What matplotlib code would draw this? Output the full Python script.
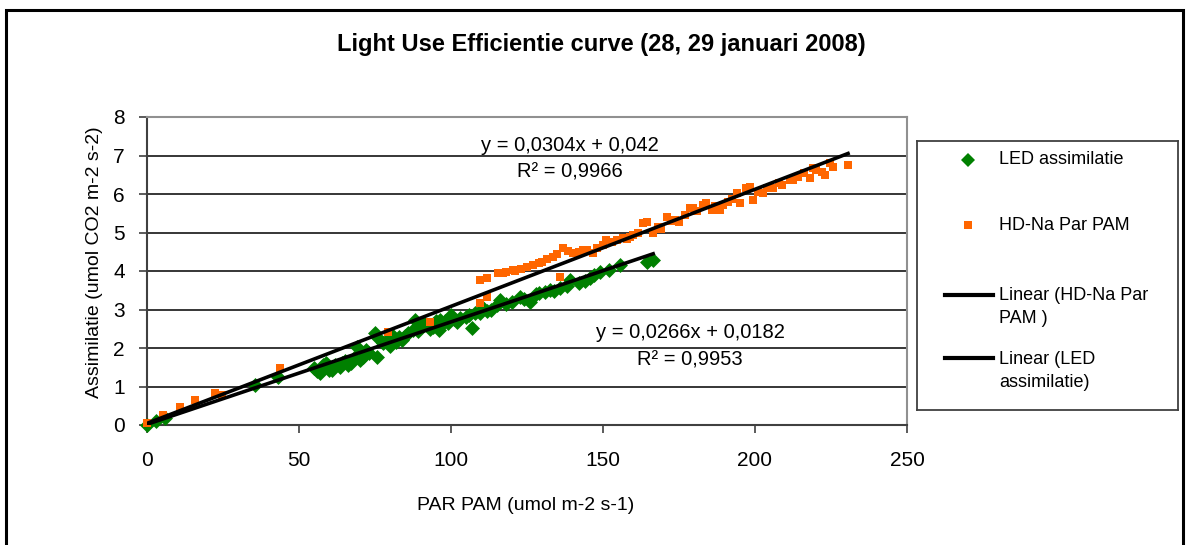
import numpy as np
import matplotlib
matplotlib.use("Agg")
import matplotlib.pyplot as plt
from matplotlib.patches import Rectangle

plt.rcParams['font.family'] = ['Liberation Sans', 'DejaVu Sans']

# ------------------------------ Datos ------------------------------
# LED assimilatie (PAR, assimilatie)
ledPar = [0, 3, 6, 35.5, 43, 55, 56, 57, 58, 59, 60, 61, 62, 63.5, 64, 65, 66, 67,
          68, 69, 70, 71, 72, 73, 75, 75.6, 76, 77.7, 79, 80, 81, 82, 83, 84, 85,
          86, 87.6, 88, 89, 90, 91, 92, 93, 94, 95, 96, 96.4, 97, 98, 99, 100, 101,
          102, 103, 105, 106, 107, 108, 109.5, 110.5, 112, 113, 115, 116, 118, 120,
          122.7, 124, 126, 128, 129, 131, 132.5, 134, 136, 138, 139, 142, 144,
          145.7, 147, 149, 152, 155.6, 164.5, 166.5]
ledAssim = [0.0, 0.1, 0.18, 1.04, 1.25, 1.48, 1.40, 1.34, 1.56, 1.60, 1.43, 1.43,
            1.55, 1.50, 1.62, 1.65, 1.55, 1.60, 1.75, 2.03, 1.70, 1.77, 1.95, 1.87,
            2.39, 1.77, 2.25, 2.13, 2.20, 2.05, 2.30, 2.16, 2.29, 2.22, 2.30, 2.40,
            2.47, 2.73, 2.45, 2.55, 2.65, 2.60, 2.50, 2.55, 2.70, 2.47, 2.73, 2.62,
            2.70, 2.64, 2.86, 2.75, 2.68, 2.78, 2.81, 2.85, 2.52, 2.92, 2.90, 3.04,
            2.95, 2.99, 3.12, 3.25, 3.15, 3.20, 3.33, 3.28, 3.20, 3.40, 3.42, 3.45,
            3.50, 3.48, 3.55, 3.62, 3.77, 3.68, 3.75, 3.82, 3.90, 3.98, 4.03, 4.16,
            4.24, 4.29]

# HD-Na Par PAM (PAR, assimilatie)
hdPar = [0, 5.3, 10.9, 15.8, 22.4, 24.7, 43.8, 79.4, 93, 109.5, 109.5, 112, 112,
         115.5, 117, 118, 120.4, 121, 123, 125, 127, 129, 130, 131.5, 133.6, 135,
         136, 137, 138.5, 140, 142, 143.5, 144.6, 146.8, 148, 150, 151, 153, 154.6,
         156.6, 158, 159, 160, 161.5, 163, 164.5, 166.5, 168, 169, 171, 172.5,
         173.7, 175, 177, 178.6, 179.6, 181, 183, 184, 186, 187, 188.5, 189.5, 191,
         192.5, 194, 195, 197, 198.4, 199.5, 201, 202.6, 204, 206, 208, 209,
         211.5, 212.5, 214, 216, 218, 219, 220, 222, 223, 224.7, 225.7, 230.6]
hdAssim = [0.05, 0.26, 0.47, 0.65, 0.83, 0.78, 1.48, 2.42, 2.68, 3.17, 3.77, 3.82,
           3.33, 3.95, 3.95, 3.98, 4.03, 4.00, 4.05, 4.10, 4.15, 4.20, 4.24, 4.30,
           4.37, 4.45, 3.85, 4.60, 4.52, 4.46, 4.50, 4.55, 4.55, 4.46, 4.60, 4.67,
           4.80, 4.75, 4.80, 4.85, 4.82, 4.88, 4.93, 5.00, 5.25, 5.27, 4.98, 5.15,
           5.10, 5.40, 5.30, 5.33, 5.27, 5.45, 5.63, 5.63, 5.55, 5.71, 5.76, 5.58,
           5.68, 5.58, 5.71, 5.80, 5.88, 6.02, 5.76, 6.16, 6.18, 5.84, 6.05, 6.02,
           6.16, 6.16, 6.28, 6.24, 6.36, 6.36, 6.45, 6.54, 6.41, 6.67, 6.62, 6.58,
           6.49, 6.80, 6.70, 6.75]

# Coeficientes de las lineas de tendencia
hdSlope, hdIntercept, hdR2 = 0.0304, 0.042, 0.9966
ledSlope, ledIntercept, ledR2 = 0.0266, 0.0182, 0.9953

xTicks = [0, 50, 100, 150, 200, 250]
yTicks = [0, 1, 2, 3, 4, 5, 6, 7, 8]

# ------------------------------ Grafico ------------------------------
W, H = 1189, 545
fig = plt.figure(figsize=(W / 100, H / 100), dpi=100)

# marco exterior
fig.patches.append(Rectangle((6 / W, -0.05), (1183 - 6) / W, 1.05 - 10 / H,
                             transform=fig.transFigure, fill=False,
                             edgecolor='black', linewidth=2.2))

ax = fig.add_axes([147 / W, 1 - 425 / H, (907 - 147) / W, (425 - 117) / H])

ax.scatter(ledPar, ledAssim, marker='D', s=58, color='#008000', linewidths=0,
           zorder=3, clip_on=False)
ax.scatter(hdPar, hdAssim, marker='s', s=38, color='#FF6600', linewidths=0,
           zorder=4, clip_on=False)

hdX = np.array([0, max(hdPar)])
ledX = np.array([0, max(ledPar)])
ax.plot(hdX, hdSlope * hdX + hdIntercept, color='black', lw=2.6, zorder=5)
ax.plot(ledX, ledSlope * ledX + ledIntercept, color='black', lw=2.6, zorder=5)

def fmt(v):
    return str(v).replace('.', ',')

ax.text(139, 7.25, 'y = %sx + %s' % (fmt(hdSlope), fmt(hdIntercept)),
        ha='center', va='center', fontsize=14.5, zorder=6)
ax.text(139, 6.57, 'R² = %s' % fmt(hdR2), ha='center', va='center',
        fontsize=14.5, zorder=6)
ax.text(178.6, 2.39, 'y = %sx + %s' % (fmt(ledSlope), fmt(ledIntercept)),
        ha='center', va='center', fontsize=14.5, zorder=6)
ax.text(178.6, 1.69, 'R² = %s' % fmt(ledR2), ha='center', va='center',
        fontsize=14.5, zorder=6)

ax.set_xlim(0, 250)
ax.set_ylim(0, 8)
ax.set_xticks(xTicks)
ax.set_yticks(yTicks)
ax.tick_params(axis='x', direction='out', length=6, width=1.2, pad=13,
               labelsize=15, color='#404040')
ax.tick_params(axis='y', direction='out', length=6, width=1.2, pad=10,
               labelsize=15, color='#404040')
ax.yaxis.grid(True, color='black', linewidth=1.1)
ax.set_axisbelow(True)
for side in ['top', 'right']:
    ax.spines[side].set_color('#909090')
    ax.spines[side].set_linewidth(1.5)
for side in ['left', 'bottom']:
    ax.spines[side].set_color('#404040')
    ax.spines[side].set_linewidth(1.5)

fig.text(601 / W, 1 - 45 / H, 'Light Use Efficientie curve (28, 29 januari 2008)',
         ha='center', va='center', fontsize=17, fontweight='bold')
fig.text(526 / W, 1 - 505 / H, 'PAR PAM (umol m-2 s-1)', ha='center',
         va='center', fontsize=14)
fig.text(95 / W, 1 - 262 / H, 'Assimilatie (umol CO2 m-2 s-2)', ha='center',
         va='center', fontsize=14, rotation=90)

# ------------------------------ Leyenda ------------------------------
lg = fig.add_axes([917 / W, 1 - 410 / H, (1178 - 917) / W, (410 - 141) / H])
lg.set_xlim(917, 1178)
lg.set_ylim(410, 141)
lg.set_xticks([])
lg.set_yticks([])
for s in lg.spines.values():
    s.set_color('#404040')
    s.set_linewidth(1.3)
lg.plot([968], [160], marker='D', markersize=7, color='#008000', mew=0)
lg.plot([968], [225], marker='s', markersize=6, color='#FF6600', mew=0)
lg.plot([945, 993], [295, 295], color='black', lw=3)
lg.plot([945, 993], [358, 358], color='black', lw=3)
lg.text(999, 160, 'LED assimilatie', va='center', ha='left', fontsize=13)
lg.text(999, 225, 'HD-Na Par PAM', va='center', ha='left', fontsize=13)
lg.text(999, 307, 'Linear (HD-Na Par\nPAM )', va='center', ha='left',
        fontsize=13, linespacing=1.45)
lg.text(999, 371, 'Linear (LED\nassimilatie)', va='center', ha='left',
        fontsize=13, linespacing=1.45)

fig.savefig('out.png', dpi=100)
